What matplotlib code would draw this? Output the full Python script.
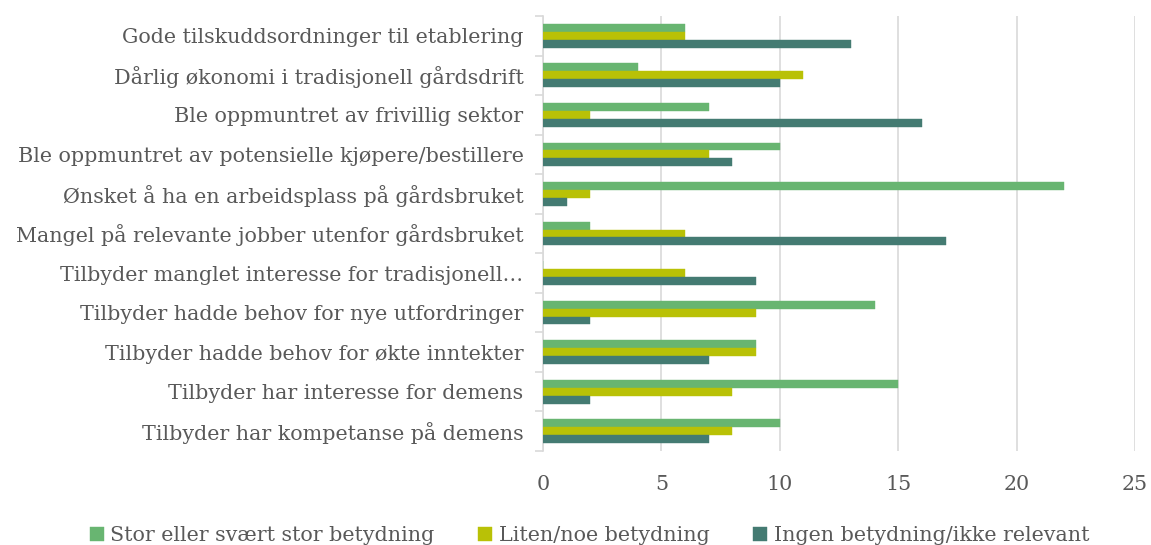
import numpy as np
import matplotlib
matplotlib.use("Agg")
import matplotlib.pyplot as plt
from matplotlib.ticker import FixedLocator

# Kategorier (ovenfra og ned) og verdier
kategorier = [
    "Gode tilskuddsordninger til etablering",
    "Dårlig økonomi i tradisjonell gårdsdrift",
    "Ble oppmuntret av frivillig sektor",
    "Ble oppmuntret av potensielle kjøpere/bestillere",
    "Ønsket å ha en arbeidsplass på gårdsbruket",
    "Mangel på relevante jobber utenfor gårdsbruket",
    "Tilbyder manglet interesse for tradisjonell…",
    "Tilbyder hadde behov for nye utfordringer",
    "Tilbyder hadde behov for økte inntekter",
    "Tilbyder har interesse for demens",
    "Tilbyder har kompetanse på demens",
]
stor = [6, 4, 7, 10, 22, 2, 0, 14, 9, 15, 10]
liten = [6, 11, 2, 7, 2, 6, 6, 9, 9, 8, 8]
ingen = [13, 10, 16, 8, 1, 17, 9, 2, 7, 2, 7]
serier = ["Stor eller svært stor betydning", "Liten/noe betydning",
          "Ingen betydning/ikke relevant"]
xticks = [0, 5, 10, 15, 20, 25]

farger = ["#68b571", "#b9c106", "#447b72"]
tekst = "#595959"

plt.rcParams["font.family"] = ["DejaVu Serif"]
plt.rcParams["font.size"] = 14.9

fig = plt.figure(figsize=(11.51, 5.45), dpi=100)
ax = fig.add_axes([543 / 1151, 94 / 545, (1135 - 543) / 1151, (451 - 16) / 545])

n = len(kategorier)
y = np.arange(n)
h = 0.2
for i, (vals, navn) in enumerate(zip([stor, liten, ingen], serier)):
    ax.barh(y + (i - 1) * h, vals, height=h, color=farger[i], label=navn,
            edgecolor=farger[i], linewidth=0.3, zorder=3)

ax.set_ylim(n - 0.5, -0.5)
ax.set_xlim(0, 25)
ax.set_xticks(xticks)
ax.set_yticks(y)
ax.set_yticklabels(kategorier, color=tekst)
ax.yaxis.set_minor_locator(FixedLocator(np.arange(-0.5, n, 1)))
ax.tick_params(axis="y", which="major", length=0, pad=14)
ax.tick_params(axis="y", which="minor", length=6, color="#d9d9d9", width=1.2)
ax.tick_params(axis="x", length=0, pad=17, colors=tekst)

ax.grid(axis="x", color="#d9d9d9", linewidth=1.2, zorder=0)
for s in ["top", "right", "bottom"]:
    ax.spines[s].set_visible(False)
ax.spines["left"].set_color("#d9d9d9")
ax.spines["left"].set_linewidth(1.2)

leg = fig.legend(loc="lower center", bbox_to_anchor=(0.512, -0.035), ncol=3,
                 frameon=False, handlelength=0.7, handleheight=0.7,
                 handletextpad=0.3, columnspacing=2.1)
for t in leg.get_texts():
    t.set_color(tekst)

fig.savefig("out.png", dpi=100)
